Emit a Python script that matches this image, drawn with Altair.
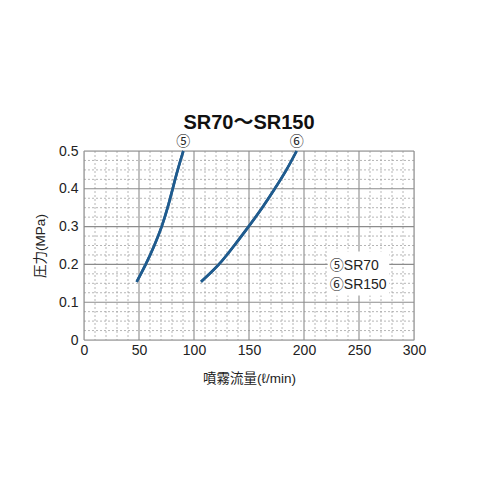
import altair as alt
import pandas as pd

# Data
sr70_flow = [47.9, 56.1, 63.9, 70.6, 76.0, 80.6, 85.2, 90.3]
sr70_press = [0.154, 0.2, 0.25, 0.3, 0.35, 0.4, 0.45, 0.5]
sr150_flow = [106.4, 122.6, 136.6, 149.6, 162.0, 173.4, 184.0, 193.3]
sr150_press = [0.154, 0.2, 0.25, 0.3, 0.35, 0.4, 0.45, 0.5]

x_major = [0, 50, 100, 150, 200, 250, 300]
y_major = [0, 0.1, 0.2, 0.3, 0.4, 0.5]
x_minor = [v for v in range(10, 300, 10) if v % 50 != 0]
y_minor = [round(i * 0.025, 3) for i in range(1, 20) if i % 4 != 0]

end_labels = ["⑤", "⑥"]
end_x = [90.3, 193.3]
end_y = [0.5, 0.5]

legend_lines = ["⑤SR70", "⑥SR150"]
legend_y = [0.196, 0.146]
legend_x = [223.5, 223.5]
legend_box = {"x": 221.5, "x2": 277.5, "y": 0.118, "y2": 0.234}

FONT = "Liberation Sans, Arial, Noto Sans CJK JP"
BLUE = "#1f5b8e"

xs = alt.Scale(domain=[0, 300], nice=False)
ys = alt.Scale(domain=[0, 0.5], nice=False)

axis_common = dict(grid=False, ticks=False, domain=False, labelFontSize=14,
                   titleFontSize=13.5, titleFontWeight="normal", labelFont=FONT,
                   titleFont=FONT, labelColor="#222", titleColor="#222",
                   labelOverlap=False, labelFlush=False)
X_AXIS = alt.Axis(values=x_major, title="噴霧流量(ℓ/min)", labelPadding=3,
                  titlePadding=14, **axis_common)
Y_AXIS = alt.Axis(values=y_major, title="圧力(MPa)", labelPadding=6,
                  titlePadding=11,
                  labelExpr="datum.value == 0 ? '0' : format(datum.value, '.1f')",
                  **axis_common)


def X(field):
    return alt.X(field, scale=xs, axis=X_AXIS)


def Y(field):
    return alt.Y(field, scale=ys, axis=Y_AXIS)


curves = pd.DataFrame({
    "flow": sr70_flow + sr150_flow,
    "press": sr70_press + sr150_press,
    "series": ["SR70"] * len(sr70_flow) + ["SR150"] * len(sr150_flow),
})

lines = alt.Chart(curves).mark_line(
    color=BLUE, strokeWidth=2.6, interpolate="natural"
).encode(x=X("flow:Q"), y=Y("press:Q"), detail="series:N")

minor_x = alt.Chart(pd.DataFrame({"x": x_minor})).mark_rule(
    color="#a3a3a3", strokeDash=[2, 2], strokeWidth=0.8
).encode(x=X("x:Q"))
minor_y = alt.Chart(pd.DataFrame({"y": y_minor})).mark_rule(
    color="#a3a3a3", strokeDash=[2, 2], strokeWidth=0.8
).encode(y=Y("y:Q"))
major_x = alt.Chart(pd.DataFrame({"x": x_major})).mark_rule(
    color="#8c8c8c", strokeWidth=1.1
).encode(x=X("x:Q"))
major_y = alt.Chart(pd.DataFrame({"y": y_major})).mark_rule(
    color="#8c8c8c", strokeWidth=1.1
).encode(y=Y("y:Q"))

box = alt.Chart(pd.DataFrame([legend_box])).mark_rect(fill="white").encode(
    x=X("x:Q"), x2="x2:Q", y=Y("y:Q"), y2="y2:Q"
)

ends = alt.Chart(pd.DataFrame({"x": end_x, "y": end_y, "t": end_labels})).mark_text(
    font=FONT, fontSize=14, dy=-9, color="#222"
).encode(x=X("x:Q"), y=Y("y:Q"), text="t:N")

leg = alt.Chart(pd.DataFrame({"x": legend_x, "y": legend_y, "t": legend_lines})).mark_text(
    font=FONT, fontSize=14, align="left", color="#222"
).encode(x=X("x:Q"), y=Y("y:Q"), text="t:N")

chart = alt.layer(lines, minor_x, minor_y, major_x, major_y, box, lines, ends, leg).properties(
    width=330, height=189,
    title=alt.TitleParams("SR70～SR150", fontSize=20, fontWeight="bold",
                          font=FONT, anchor="middle", offset=2, color="#111"),
    autosize=alt.AutoSizeParams(type="none"),
    padding={"left": 76, "top": 143, "right": 70, "bottom": 140},
).configure_view(stroke="#111", strokeWidth=1.3).configure_axis(
    labelOverlap=False, labelFlush=False
).configure(background="white")

chart.save("out.html", embed_options={"renderer": "svg", "actions": False})
